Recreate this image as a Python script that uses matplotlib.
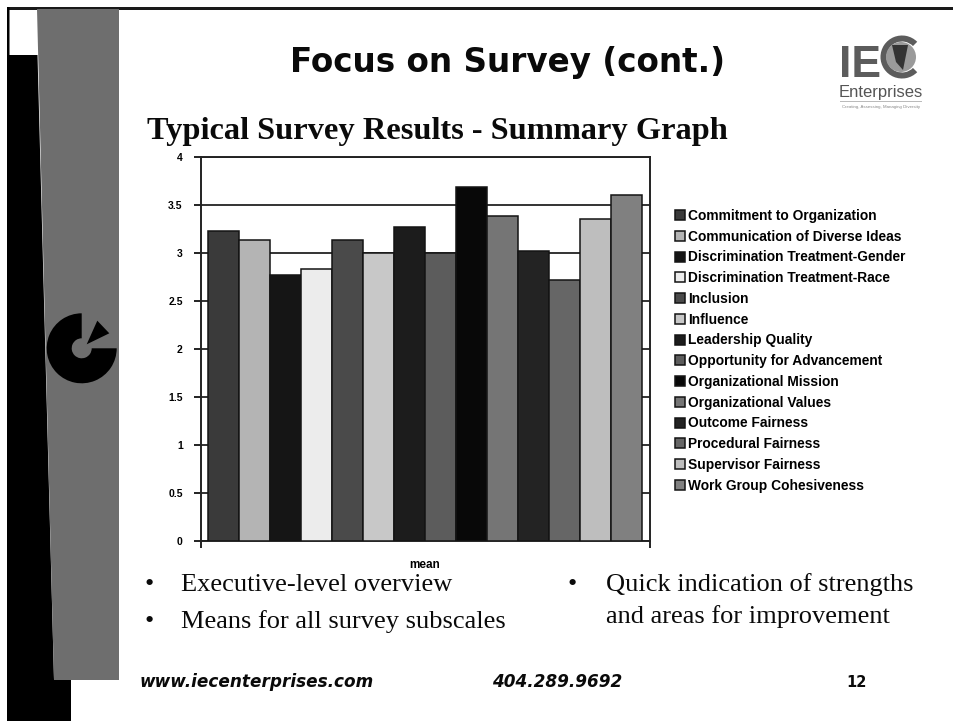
import matplotlib
matplotlib.use("Agg")
import matplotlib.pyplot as plt
from matplotlib.patches import Polygon, Rectangle, Wedge, Circle

W, H = 954, 721

categories = ["Commitment to Organization", "Communication of Diverse Ideas",
              "Discrimination Treatment-Gender", "Discrimination Treatment-Race",
              "Inclusion", "Influence", "Leadership Quality",
              "Opportunity for Advancement", "Organizational Mission",
              "Organizational Values", "Outcome Fairness", "Procedural Fairness",
              "Supervisor Fairness", "Work Group Cohesiveness"]
means = [3.23, 3.13, 2.77, 2.83, 3.13, 3.00, 3.27, 3.00, 3.68, 3.38, 3.02, 2.72, 3.35, 3.60]
bar_colors = ["#3a3a3a", "#b4b4b4", "#151515", "#ececec", "#4a4a4a", "#c8c8c8", "#1c1c1c",
              "#5c5c5c", "#080808", "#757575", "#232323", "#666666", "#bebebe", "#808080"]
y_ticks = [0, 0.5, 1, 1.5, 2, 2.5, 3, 3.5, 4]
y_tick_labels = ["0", "0.5", "1", "1.5", "2", "2.5", "3", "3.5", "4"]
group_label = "mean"

fig = plt.figure(figsize=(W / 100, H / 100), dpi=100, facecolor="white")

# Slide background, in pixel coordinates (y runs downward)
bg = fig.add_axes([0, 0, 1, 1], zorder=0)
bg.set_xlim(0, W)
bg.set_ylim(H, 0)
bg.axis("off")
bg.add_patch(Rectangle((7, 7), W - 7, 2.5, color="#1a1a1a", lw=0))
bg.add_patch(Polygon([(7, 7), (9.5, 7), (9.5, 55), (37.5, 55), (54, 680), (71, 680), (71, H), (7, H)],
                     color="black", lw=0))
bg.add_patch(Polygon([(37, 9), (119, 9), (119, 680), (54, 680)], color="#6e6e6e", lw=0))
# Pie-shaped emblem
bg.add_patch(Wedge((81.7, 348.3), 35, 0, 270, width=25, color="black", lw=0))
bg.add_patch(Polygon([(97.3, 320.7), (109.3, 333.3), (86.7, 344.3)], color="black", lw=0))

SERIF = "Liberation Serif"
bg.text(508, 72, "Focus on Survey (cont.)", family="DejaVu Sans", weight="bold",
        fontsize=23.5, ha="center", va="baseline", color="#0a0a0a")
bg.text(147, 139, "Typical Survey Results - Summary Graph", family=SERIF, weight="bold",
        fontsize=23.3, ha="left", va="baseline", color="#0a0a0a")

for x, y, s in [(181, 591, "Executive-level overview"),
                (181, 628, "Means for all survey subscales"),
                (606, 591, "Quick indication of strengths"),
                (606, 623, "and areas for improvement")]:
    bg.text(x, y, s, family=SERIF, fontsize=19, va="baseline", color="#0a0a0a")
for x, y in [(149, 591), (149, 628), (572, 591)]:
    bg.text(x, y, "\u2022", family=SERIF, fontsize=19, ha="center", va="baseline", color="#0a0a0a")

FOOT = 12.2
bg.text(140, 687, "www.iecenterprises.com", family="DejaVu Sans", weight="bold", style="italic",
        fontsize=FOOT, va="baseline", color="#0a0a0a")
bg.text(492, 687, "404.289.9692", family="DejaVu Sans", weight="bold", style="italic",
        fontsize=FOOT, va="baseline", color="#0a0a0a")
bg.text(846, 687, "12", family="DejaVu Sans", weight="bold", fontsize=10.5, va="baseline", color="#0a0a0a")

# Logo
LOGO = "#5c5c5c"
bg.text(839, 77, "IE", family="Liberation Sans", weight="bold",
        fontsize=32, va="baseline", color=LOGO)
bg.add_patch(Wedge((902, 57), 21.5, 45, 315, width=6, color=LOGO, lw=0))
bg.add_patch(Circle((901, 57), 15, color="#9a9a9a", lw=0))
bg.add_patch(Polygon([(892, 45), (908, 45), (903, 70), (896, 62)], color="#333333", lw=0))
bg.text(881, 97, "Enterprises", family="Liberation Sans", fontsize=12, ha="center", va="baseline",
        color="#555555")
bg.add_patch(Rectangle((840, 101), 82, 1, color="#bbbbbb", lw=0))
bg.text(881, 108, "Creating, Assessing, Managing Diversity", family="Liberation Sans", fontsize=3.2,
        ha="center", va="baseline", color="#888888")

# Chart
ax = fig.add_axes([200.7 / W, (H - 540.7) / H, 449.3 / W, 384 / H], zorder=2)
ax.patch.set_alpha(0)
handles = []
for i, (c, v, col) in enumerate(zip(categories, means, bar_colors)):
    handles.append(ax.bar(i, v, width=1.0, color=col, edgecolor="#141414", linewidth=1.1,
                          label=c, zorder=3))
ax.set_xlim(-0.735, 13.758)
ax.set_ylim(0, 4)
ax.set_yticks(y_ticks)
ax.set_yticklabels(y_tick_labels, family="Liberation Sans", weight="bold", fontsize=7.5)
ax.tick_params(axis="y", length=5, width=1.4, color="#222222", pad=8)
ax.set_xticks([6.5])
ax.set_xticklabels([group_label], family="Liberation Sans", weight="bold", fontsize=8.5)
ax.tick_params(axis="x", which="major", length=0, pad=13)
ax.set_xticks(list(ax.get_xlim()), minor=True)
ax.tick_params(axis="x", which="minor", length=5, width=1.4, color="#222222")
ax.grid(axis="y", color="#333333", linewidth=1.4, zorder=1)
ax.set_axisbelow(True)
for side in ax.spines:
    ax.spines[side].set_color("#222222")
    ax.spines[side].set_linewidth(1.4)

ax.legend(handles=handles, loc="upper left", bbox_to_anchor=(675 / W, (H - 209) / H),
          bbox_transform=fig.transFigure, frameon=False, ncol=1, borderpad=0, borderaxespad=0,
          prop={"family": "Liberation Sans", "weight": "bold", "size": 9.9},
          handlelength=0.73, handleheight=0.73, handletextpad=0.22, labelspacing=0.49)

fig.savefig("out.png", dpi=100, facecolor="white")
